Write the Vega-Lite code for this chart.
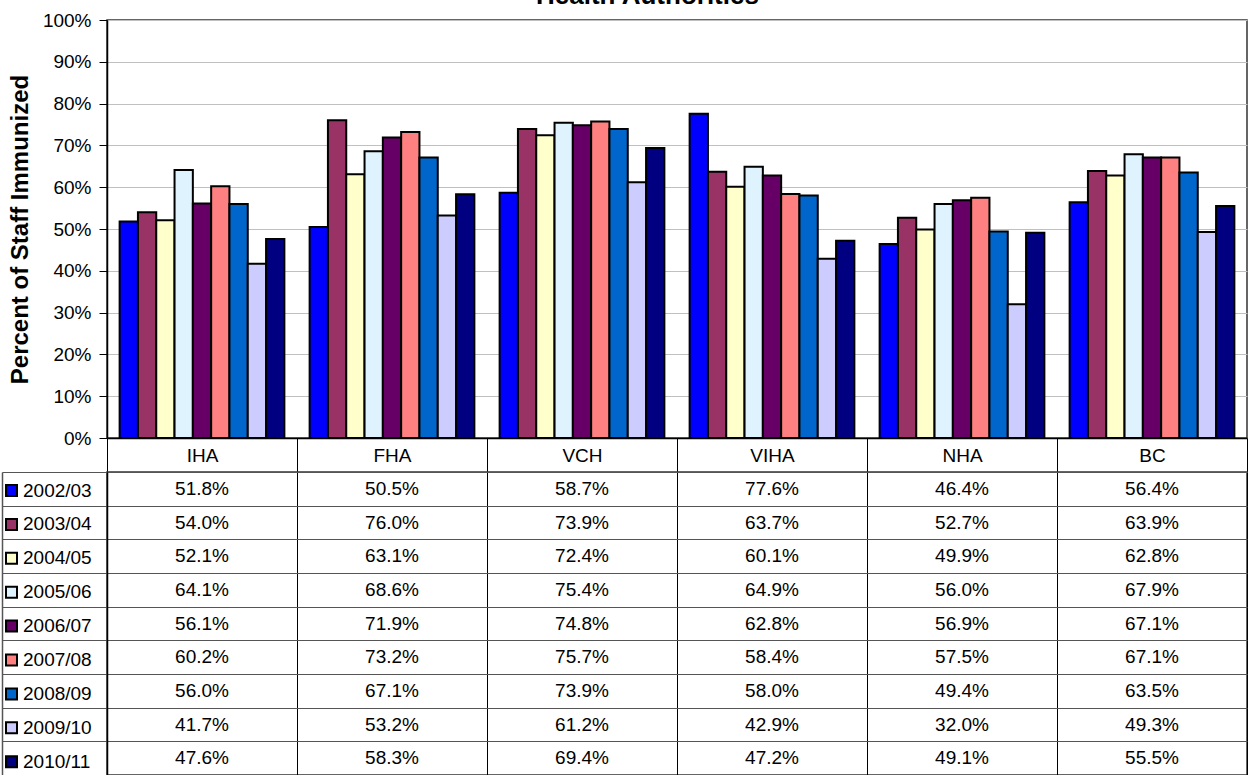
{
  "$schema": "https://vega.github.io/schema/vega-lite/v6.json",
  "autosize": {"type": "pad"},
  "padding": {"left": 0, "top": -17, "right": 0, "bottom": 0},
  "background": "white",
  "bounds": "flush",
  "spacing": 34,
  "title": {"text": "Health Authorities", "font": "Liberation Sans", "fontSize": 26, "fontWeight": "bold", "color": "black", "anchor": "middle", "dx": 23, "offset": -20, "baseline": "alphabetic"},
  "config": {
    "font": "Liberation Sans",
    "view": {"stroke": "#333333", "strokeWidth": 1.5}
  },
  "datasets": {
    "imm": [
      {"ha": "IHA", "year": "2002/03", "value": 0.518},
      {"ha": "IHA", "year": "2003/04", "value": 0.540},
      {"ha": "IHA", "year": "2004/05", "value": 0.521},
      {"ha": "IHA", "year": "2005/06", "value": 0.641},
      {"ha": "IHA", "year": "2006/07", "value": 0.561},
      {"ha": "IHA", "year": "2007/08", "value": 0.602},
      {"ha": "IHA", "year": "2008/09", "value": 0.560},
      {"ha": "IHA", "year": "2009/10", "value": 0.417},
      {"ha": "IHA", "year": "2010/11", "value": 0.476},
      {"ha": "FHA", "year": "2002/03", "value": 0.505},
      {"ha": "FHA", "year": "2003/04", "value": 0.760},
      {"ha": "FHA", "year": "2004/05", "value": 0.631},
      {"ha": "FHA", "year": "2005/06", "value": 0.686},
      {"ha": "FHA", "year": "2006/07", "value": 0.719},
      {"ha": "FHA", "year": "2007/08", "value": 0.732},
      {"ha": "FHA", "year": "2008/09", "value": 0.671},
      {"ha": "FHA", "year": "2009/10", "value": 0.532},
      {"ha": "FHA", "year": "2010/11", "value": 0.583},
      {"ha": "VCH", "year": "2002/03", "value": 0.587},
      {"ha": "VCH", "year": "2003/04", "value": 0.739},
      {"ha": "VCH", "year": "2004/05", "value": 0.724},
      {"ha": "VCH", "year": "2005/06", "value": 0.754},
      {"ha": "VCH", "year": "2006/07", "value": 0.748},
      {"ha": "VCH", "year": "2007/08", "value": 0.757},
      {"ha": "VCH", "year": "2008/09", "value": 0.739},
      {"ha": "VCH", "year": "2009/10", "value": 0.612},
      {"ha": "VCH", "year": "2010/11", "value": 0.694},
      {"ha": "VIHA", "year": "2002/03", "value": 0.776},
      {"ha": "VIHA", "year": "2003/04", "value": 0.637},
      {"ha": "VIHA", "year": "2004/05", "value": 0.601},
      {"ha": "VIHA", "year": "2005/06", "value": 0.649},
      {"ha": "VIHA", "year": "2006/07", "value": 0.628},
      {"ha": "VIHA", "year": "2007/08", "value": 0.584},
      {"ha": "VIHA", "year": "2008/09", "value": 0.580},
      {"ha": "VIHA", "year": "2009/10", "value": 0.429},
      {"ha": "VIHA", "year": "2010/11", "value": 0.472},
      {"ha": "NHA", "year": "2002/03", "value": 0.464},
      {"ha": "NHA", "year": "2003/04", "value": 0.527},
      {"ha": "NHA", "year": "2004/05", "value": 0.499},
      {"ha": "NHA", "year": "2005/06", "value": 0.560},
      {"ha": "NHA", "year": "2006/07", "value": 0.569},
      {"ha": "NHA", "year": "2007/08", "value": 0.575},
      {"ha": "NHA", "year": "2008/09", "value": 0.494},
      {"ha": "NHA", "year": "2009/10", "value": 0.320},
      {"ha": "NHA", "year": "2010/11", "value": 0.491},
      {"ha": "BC", "year": "2002/03", "value": 0.564},
      {"ha": "BC", "year": "2003/04", "value": 0.639},
      {"ha": "BC", "year": "2004/05", "value": 0.628},
      {"ha": "BC", "year": "2005/06", "value": 0.679},
      {"ha": "BC", "year": "2006/07", "value": 0.671},
      {"ha": "BC", "year": "2007/08", "value": 0.671},
      {"ha": "BC", "year": "2008/09", "value": 0.635},
      {"ha": "BC", "year": "2009/10", "value": 0.493},
      {"ha": "BC", "year": "2010/11", "value": 0.555}
    ]
  },
  "vconcat": [
    {
      "width": 1140,
      "height": 418,
      "data": {"name": "imm"},
      "mark": {"type": "bar", "stroke": "black", "strokeWidth": 2},
      "encoding": {
        "x": {
          "field": "ha", "type": "nominal",
          "sort": ["IHA", "FHA", "VCH", "VIHA", "NHA", "BC"],
          "scale": {"paddingInner": 0, "paddingOuter": 0},
          "axis": {"title": null, "labelAngle": 0, "tickBand": "extent", "tickSize": 34, "tickColor": "black", "tickWidth": 1, "domainColor": "black", "domainWidth": 1.5, "labelPadding": -17, "labelBaseline": "middle", "labelFontSize": 19, "labelColor": "black", "labelFont": "Liberation Sans", "grid": false}
        },
        "xOffset": {
          "field": "year", "type": "nominal",
          "sort": ["2002/03", "2003/04", "2004/05", "2005/06", "2006/07", "2007/08", "2008/09", "2009/10", "2010/11"],
          "scale": {"paddingInner": 0, "paddingOuter": 0.69}
        },
        "y": {
          "field": "value", "type": "quantitative",
          "scale": {"domain": [0, 1], "nice": false},
          "axis": {"title": "Percent of Staff Immunized", "titleFont": "Liberation Sans", "titleFontSize": 24, "titleFontWeight": "bold", "titleColor": "black", "titleX": -87, "titleBaseline": "middle", "values": [0, 0.1, 0.2, 0.3, 0.4, 0.5, 0.6, 0.7, 0.8, 0.9, 1], "format": ".0%", "labelFontSize": 19, "labelColor": "black", "labelFont": "Liberation Sans", "labelPadding": 8, "tickSize": 8, "tickColor": "black", "domainColor": "black", "domainWidth": 1.5, "grid": true, "gridColor": "#c0c0c0", "gridWidth": 1}
        },
        "color": {
          "field": "year", "type": "nominal",
          "scale": {
            "domain": ["2002/03", "2003/04", "2004/05", "2005/06", "2006/07", "2007/08", "2008/09", "2009/10", "2010/11"],
            "range": ["#0000FF", "#993366", "#FFFFCC", "#DFF3FF", "#660066", "#FF8080", "#0066CC", "#CCCCFF", "#000080"]
          },
          "legend": {"orient": "none", "legendX": -105, "legendY": 461, "title": null, "padding": 0, "symbolType": "square", "symbolSize": 121, "symbolStrokeColor": "black", "symbolStrokeWidth": 2, "symbolOpacity": 1, "labelFontSize": 19, "labelFont": "Liberation Sans", "labelColor": "black", "labelOffset": 2, "rowPadding": 13.9}
        }
      }
    },
    {
      "width": 1140,
      "height": 303,
      "data": {"name": "imm"},
      "resolve": {"axis": {"y": "independent"}},
      "layer": [
        {
          "mark": {"type": "text", "fontSize": 19, "font": "Liberation Sans", "color": "black", "baseline": "middle", "align": "center"},
          "encoding": {
            "x": {
              "field": "ha", "type": "nominal",
              "sort": ["IHA", "FHA", "VCH", "VIHA", "NHA", "BC"],
              "scale": {"paddingInner": 0, "paddingOuter": 0},
              "axis": {"title": null, "labels": false, "ticks": false, "domain": false, "grid": true, "tickBand": "extent", "gridColor": "black", "gridWidth": 1, "gridOpacity": 1}
            },
            "y": {
              "field": "year", "type": "nominal",
              "sort": ["2002/03", "2003/04", "2004/05", "2005/06", "2006/07", "2007/08", "2008/09", "2009/10", "2010/11"],
              "scale": {"paddingInner": 0, "paddingOuter": 0},
              "axis": {"title": null, "labels": false, "ticks": true, "tickSize": 105, "tickColor": "#555555", "tickWidth": 1.2, "tickBand": "extent", "grid": true, "gridColor": "#555555", "gridWidth": 1.2, "gridOpacity": 1, "domain": true, "domainColor": "black", "domainWidth": 1.5}
            },
            "text": {"field": "value", "type": "quantitative", "format": ".1%"}
          }
        },
        {
          "mark": {"type": "rule", "opacity": 0},
          "encoding": {
            "y": {
              "field": "year", "type": "nominal",
              "sort": ["2002/03", "2003/04", "2004/05", "2005/06", "2006/07", "2007/08", "2008/09", "2009/10", "2010/11"],
              "axis": {"orient": "left", "offset": 105, "title": null, "labels": false, "ticks": false, "grid": false, "domain": true, "domainColor": "#555555", "domainWidth": 1.5}
            }
          }
        }
      ]
    }
  ]
}
